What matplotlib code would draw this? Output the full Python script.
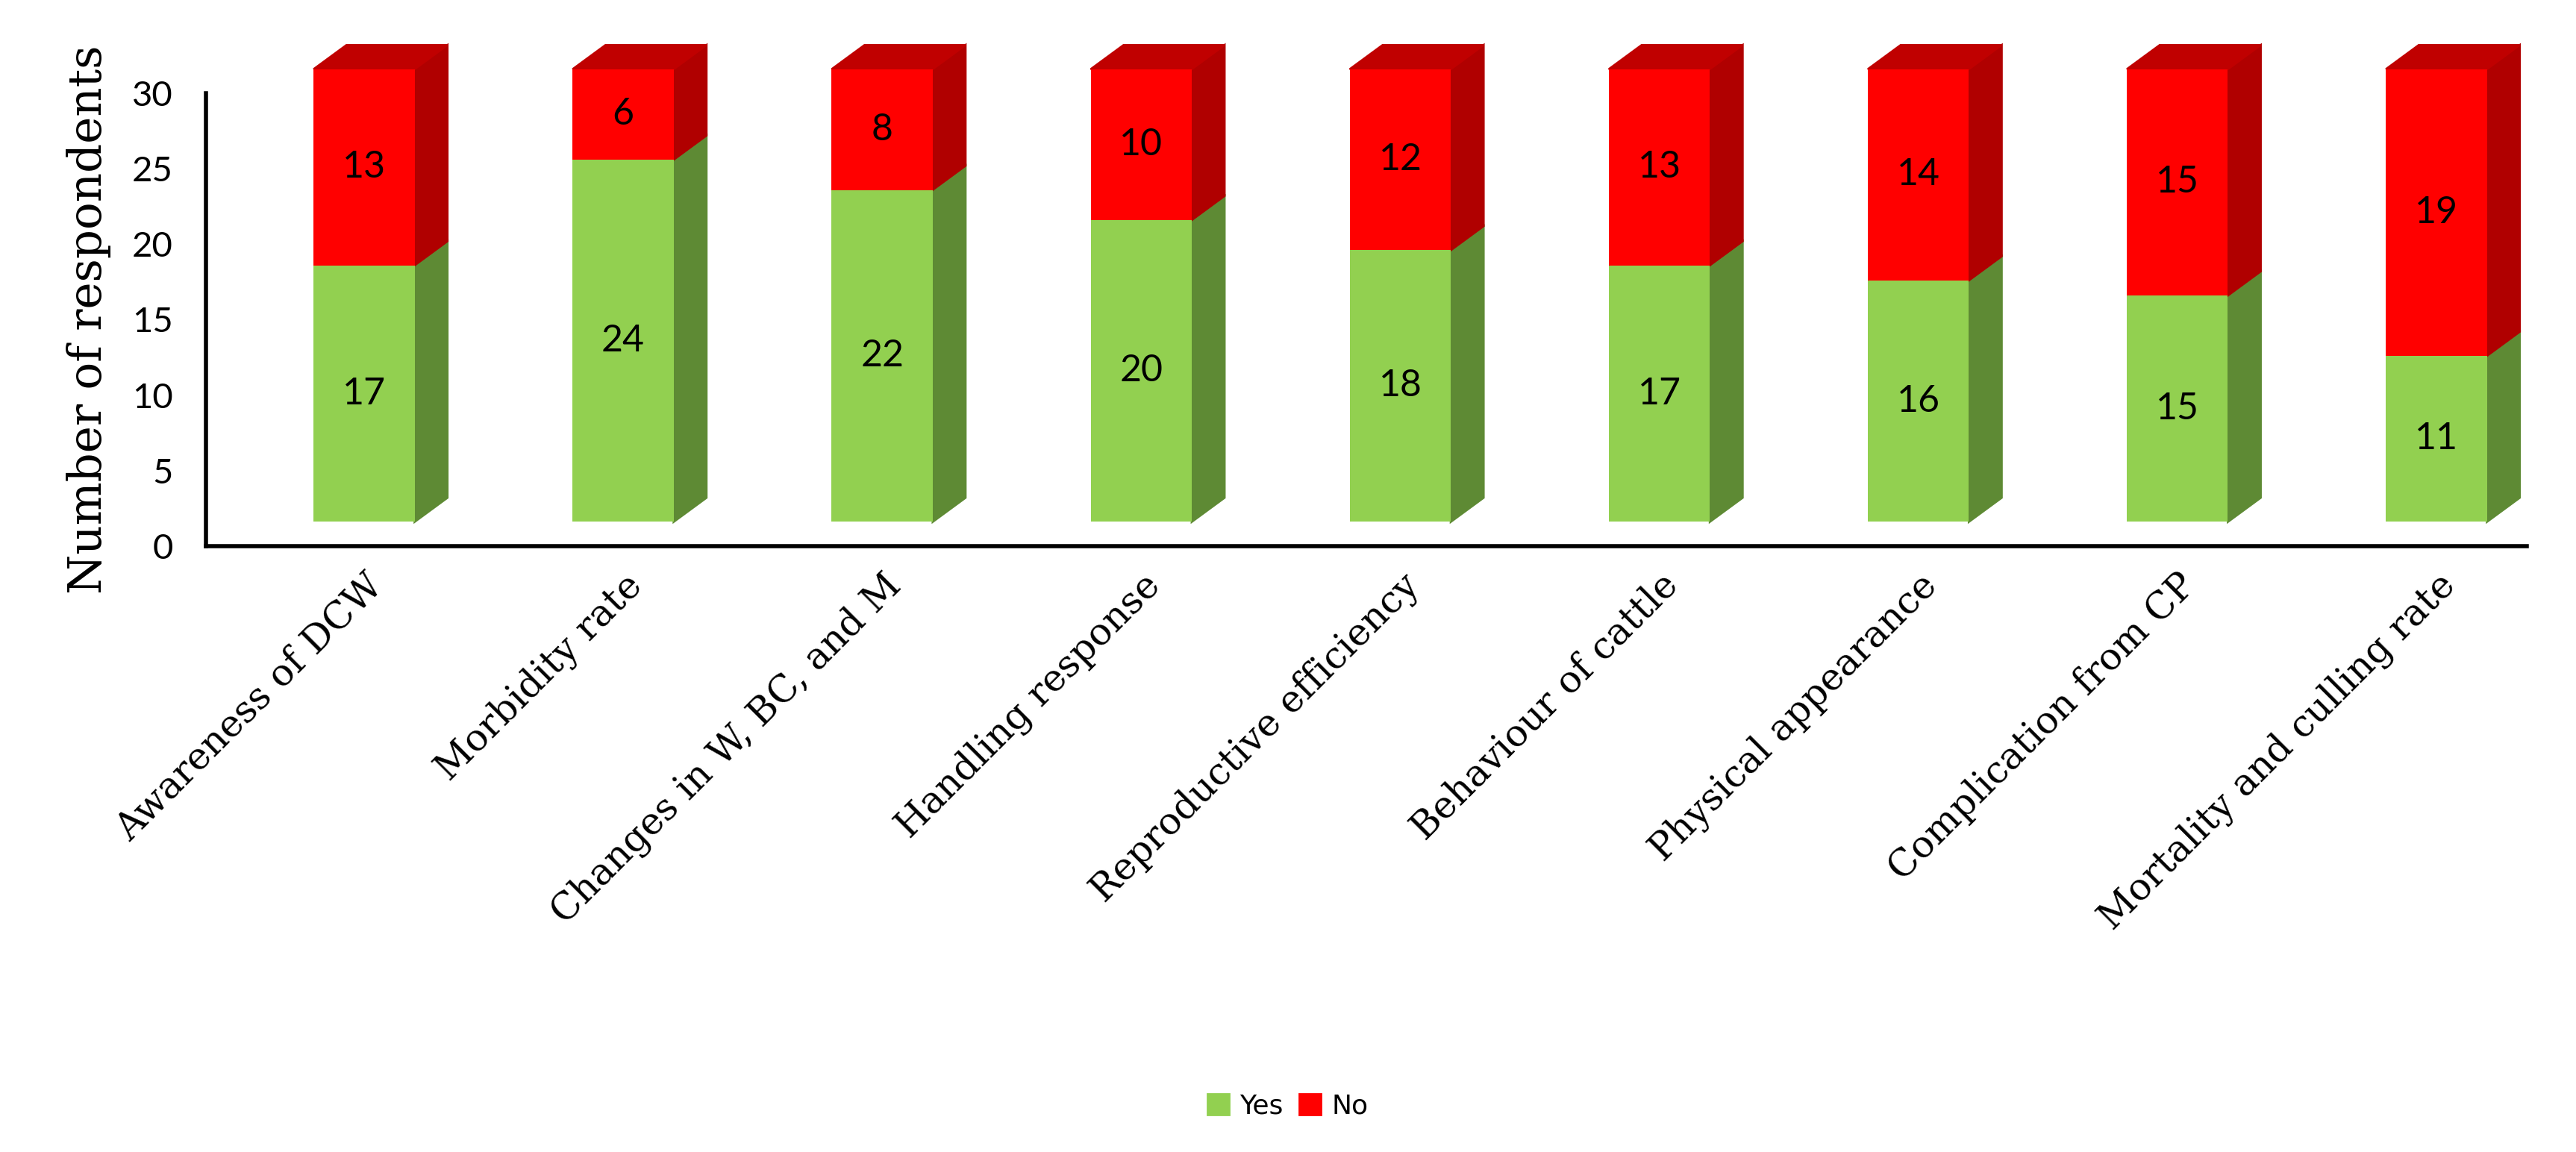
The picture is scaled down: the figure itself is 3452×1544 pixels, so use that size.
import numpy as np
import matplotlib.pyplot as plt
from matplotlib.patches import Polygon, Patch

categories = ["Awareness of DCW", "Morbidity rate", "Changes in W, BC, and M",
              "Handling response", "Reproductive efficiency", "Behaviour of cattle",
              "Physical appearance", "Complication from CP", "Mortality and culling rate"]
yes_vals = [17, 24, 22, 20, 18, 17, 16, 15, 11]
no_vals = [13, 6, 8, 10, 12, 13, 14, 15, 19]

GREEN, GREEN_SIDE = "#92D050", "#5E8A34"
RED, RED_SIDE, RED_TOP = "#FF0000", "#B00000", "#C00000"

W = 0.39      # bar width
DX = 0.127    # depth in x
DY = 1.6      # depth in y / floor offset

fig = plt.figure(figsize=(17.26, 7.72), dpi=200)
ax = fig.add_axes([0.08, 0.526, 0.901, 0.393])

x = np.arange(len(categories))
yes = np.array(yes_vals)
no = np.array(no_vals)

ax.bar(x, yes, W, bottom=DY, color=GREEN, clip_on=False, zorder=3)
ax.bar(x, no, W, bottom=DY + yes, color=RED, clip_on=False, zorder=3)

for xi, y1, y2 in zip(x, yes, no):
    r = xi + W / 2
    l = xi - W / 2
    b0, b1, b2 = DY, DY + y1, DY + y1 + y2
    # faces latérales
    ax.add_patch(Polygon([(r, b0), (r + DX, b0 + DY), (r + DX, b1 + DY), (r, b1)],
                         closed=True, color=GREEN_SIDE, clip_on=False, zorder=2))
    ax.add_patch(Polygon([(r, b1), (r + DX, b1 + DY), (r + DX, b2 + DY), (r, b2)],
                         closed=True, color=RED_SIDE, clip_on=False, zorder=2))
    # face du dessus
    ax.add_patch(Polygon([(l, b2), (l + DX, b2 + DY), (r + DX, b2 + DY), (r, b2)],
                         closed=True, color=RED_TOP, clip_on=False, zorder=2))
    ax.text(xi, b0 + y1 / 2, str(y1), ha="center", va="center",
            fontsize=18, family="Lato", zorder=4)
    ax.text(xi, b1 + y2 / 2, str(y2), ha="center", va="center",
            fontsize=18, family="Lato", zorder=4)

ax.set_xlim(-0.61, 8.35)
ax.set_ylim(0, 30)
ax.set_yticks(range(0, 31, 5))
ax.tick_params(axis="y", length=0, labelsize=17, pad=16)
ax.set_yticklabels([str(v) for v in range(0, 31, 5)], family="Lato")
ax.set_xticks(x)
ax.set_xticklabels(categories, rotation=45, ha="right", rotation_mode="anchor",
                   fontsize=18, family="DejaVu Serif")
ax.tick_params(axis="x", length=0, pad=10)
for s in ["top", "right"]:
    ax.spines[s].set_visible(False)
for s in ["left", "bottom"]:
    ax.spines[s].set_linewidth(2)
ax.set_ylabel("Number of respondents", fontsize=22, family="DejaVu Serif", labelpad=10)

fig.legend(handles=[Patch(color=GREEN, label="Yes"), Patch(color=RED, label="No")],
           loc="center", bbox_to_anchor=(0.5, 0.04), ncol=2, frameon=False,
           fontsize=13, handlelength=0.8, handleheight=0.8, columnspacing=0.6,
           handletextpad=0.4)

fig.savefig("out.png", dpi=200)
